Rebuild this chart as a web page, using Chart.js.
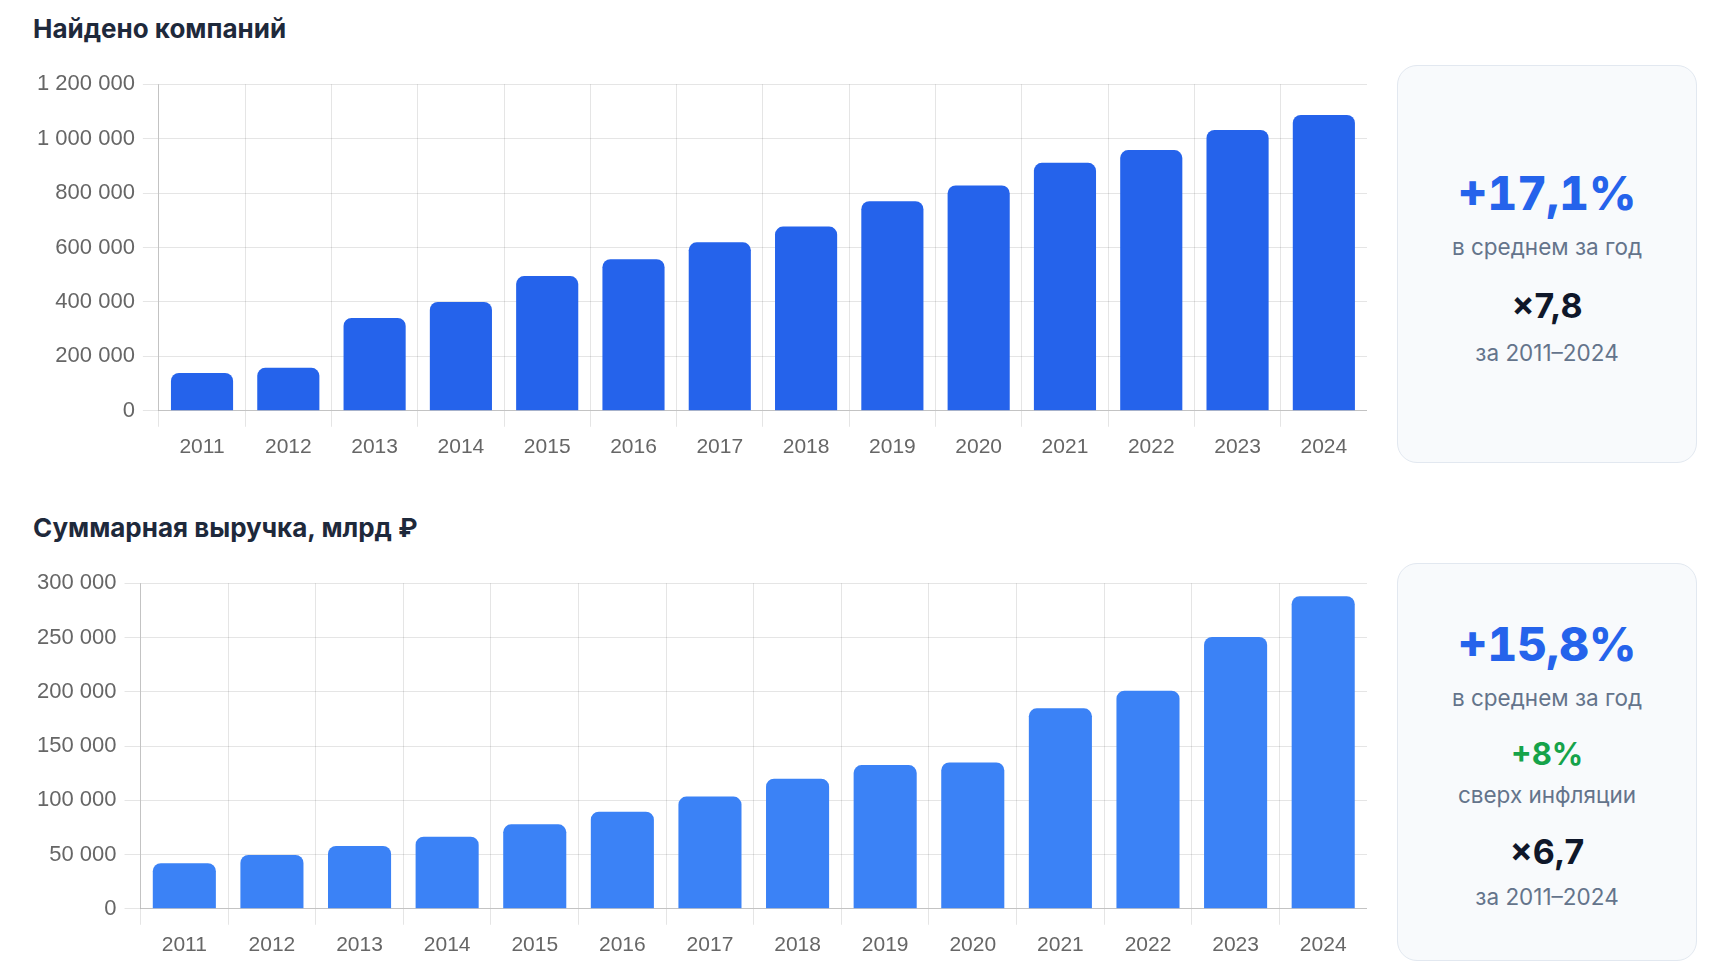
<!DOCTYPE html>
<html lang="ru">
<head>
<meta charset="utf-8">
<title>Найдено компаний / Суммарная выручка</title>
<script src="https://cdn.jsdelivr.net/npm/chart.js@4.4.1/dist/chart.umd.min.js"></script>
<style>
  html, body { margin: 0; padding: 0; background: #fff; }
  body { width: 1712px; height: 963px; position: relative; overflow: hidden; font-family: Inter, "Noto Sans", sans-serif; }
  .title { position: absolute; left: 33px; font-size: 26px; line-height: 32px; font-weight: 700; color: #1e293b; margin: 0; }
  .chart-box { position: absolute; left: 29px; width: 1338px; }
  .card { position: absolute; left: 1397px; width: 300px; height: 398px; box-sizing: border-box;
          background: #f8fafc; border: 1.5px solid #e2e8f0; border-radius: 20px; text-align: center; }
  .card div { margin: 0; }
  .big { font-size: 46px; line-height: 48px; font-weight: 800; color: #2563eb; font-variant-numeric: tabular-nums; }
  .mid { font-size: 34px; line-height: 36px; font-weight: 700; color: #0f172a; }
  .green { color: #16a34a; font-size: 31px; }
  .sub { font-size: 22.5px; line-height: 26px; color: #64748b; }
</style>
</head>
<body>

<h2 class="title" style="top:13px">Найдено компаний</h2>
<div class="chart-box" style="top:63px; height:405px"><canvas id="companiesChart"></canvas></div>
<div class="card" style="top:65px; padding-top:103px">
  <div class="big">+17,1%</div>
  <div class="sub" style="margin-top:17px">в среднем за год</div>
  <div class="mid" style="margin-top:28px">×7,8</div>
  <div class="sub" style="margin-top:16px">за 2011–2024</div>
</div>

<h2 class="title" style="top:512px">Суммарная выручка, млрд ₽</h2>
<div class="chart-box" style="top:562px; height:404px"><canvas id="revenueChart"></canvas></div>
<div class="card" style="top:563px; padding-top:56px">
  <div class="big">+15,8%</div>
  <div class="sub" style="margin-top:17px">в среднем за год</div>
  <div class="mid green" style="margin-top:25px">+8%</div>
  <div class="sub" style="margin-top:10px">сверх инфляции</div>
  <div class="mid" style="margin-top:26px">×6,7</div>
  <div class="sub" style="margin-top:14px">за 2011–2024</div>
</div>

<script>
const years = ['2011', '2012', '2013', '2014', '2015', '2016', '2017', '2018', '2019', '2020', '2021', '2022', '2023', '2024'];

// companies found per year
const companies = [139000, 158000, 341000, 400000, 495000, 557000, 619000, 677000, 770000, 828000, 911000, 958000, 1032000, 1087000];

// total revenue, bn rub
const revenue = [42000, 49600, 57900, 66500, 77800, 89400, 103400, 119800, 132400, 134800, 184700, 201000, 250500, 288000];

const companiesTicks = { max: 1200000, step: 200000 };
const revenueTicks = { max: 300000, step: 50000 };

// "1 200 000" style, plain spaces
const fmt = (v) => String(v).replace(/\B(?=(\d{3})+(?!\d))/g, ' ');

const tickFont = { family: '"Liberation Sans", Arial, Helvetica, sans-serif', size: 22 };

function makeBarChart(id, values, color, ticks) {
  const ctx = document.getElementById(id).getContext('2d');
  return new Chart(ctx, {
    type: 'bar',
    data: {
      labels: years,
      datasets: [
        {
          data: values,
          backgroundColor: color,
          borderRadius: 8,
          borderSkipped: 'start',
        },
      ],
    },
    options: {
      responsive: true,
      maintainAspectRatio: false,
      animation: false,
      plugins: {
        legend: { display: false },
        tooltip: { enabled: false },
      },
      scales: {
        x: {
          grid: { color: 'rgba(0,0,0,0.1)', tickLength: 16 },
          border: { color: 'rgba(0,0,0,0.15)' },
          ticks: { color: '#666', font: { family: tickFont.family, size: 21 }, padding: 8 },
        },
        y: {
          min: 0,
          max: ticks.max,
          grid: { color: 'rgba(0,0,0,0.1)', tickLength: 16 },
          border: { color: 'rgba(0,0,0,0.15)' },
          ticks: {
            stepSize: ticks.step,
            color: '#666',
            font: tickFont,
            padding: 8,
            callback: (v) => fmt(v),
          },
        },
      },
    },
  });
}

makeBarChart('companiesChart', companies, '#2563eb', companiesTicks);
makeBarChart('revenueChart', revenue, '#3b82f6', revenueTicks);
</script>
</body>
</html>
